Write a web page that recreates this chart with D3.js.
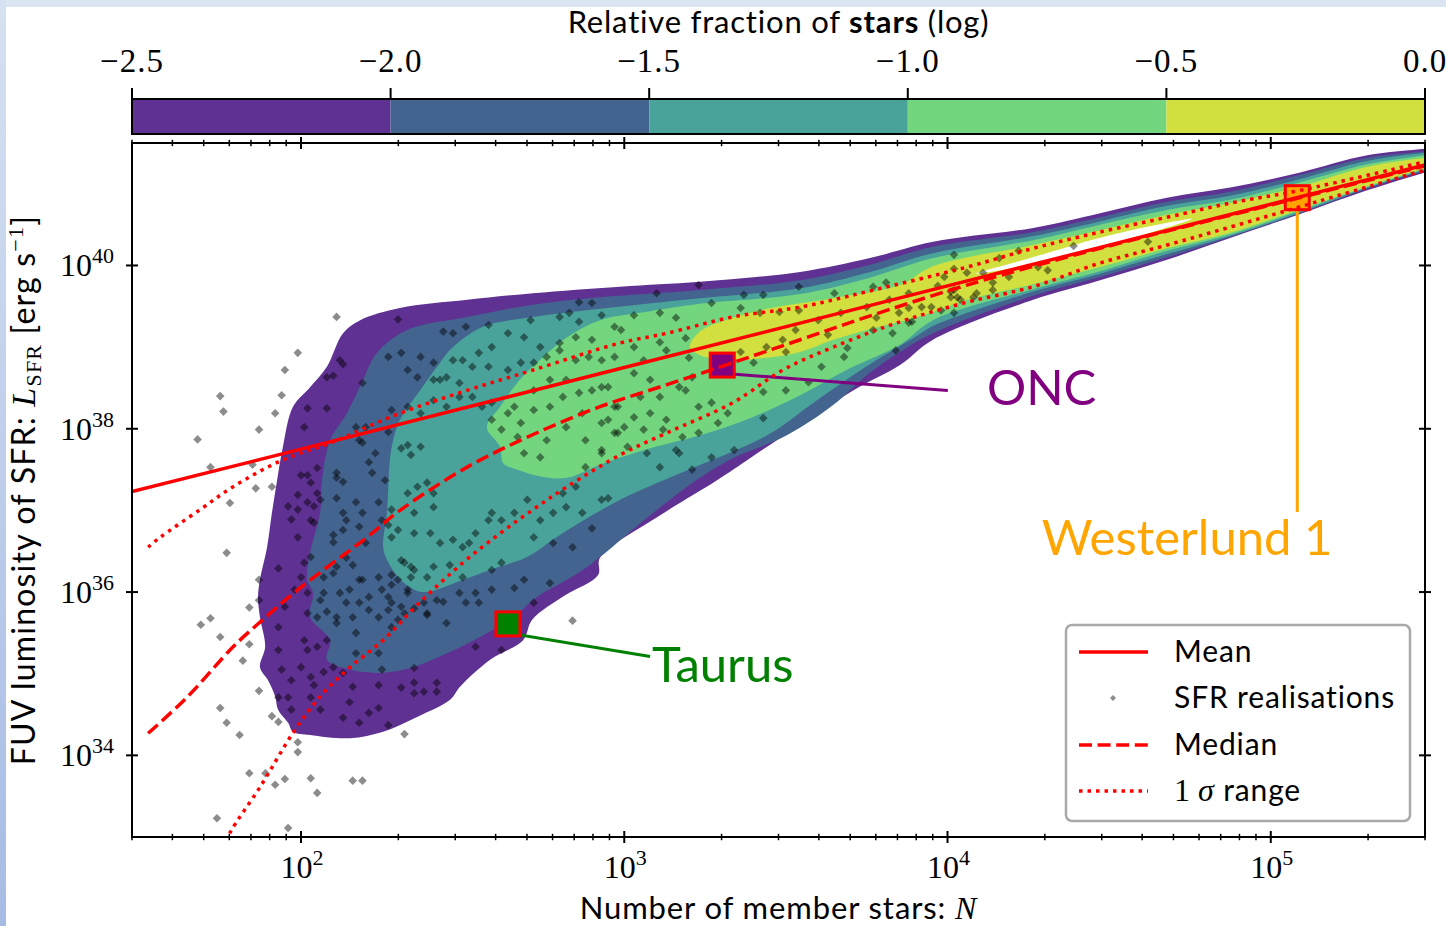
<!DOCTYPE html>
<html>
<head>
<meta charset="utf-8">
<script src="https://cdn.jsdelivr.net/npm/d3@7"></script>
<style>
html, body { margin: 0; padding: 0; background: #fff; }
svg { display: block; }
</style>
</head>
<body>
<svg id="chart" width="1446" height="926"></svg>
<script>
// ---- data (log10 N, log10 L) ----
var levels = [-2.5, -2.0, -1.5, -1.0, -0.5, 0.0];
var levelColors = ["#5f3192", "#43648f", "#4aa39b", "#73d57e", "#d1e03e"];

var contourM25 = [[1.873,36.15],[1.895,36.55],[1.910,36.97],[1.926,37.37],[1.944,37.78],[1.975,38.27],[2.028,38.51],[2.080,38.76],[2.130,39.17],[2.183,39.33],[2.306,39.48],[2.514,39.58],[2.718,39.66],[2.987,39.74],[3.234,39.80],[3.544,39.92],[3.760,40.09],[3.955,40.29],[4.265,40.46],[4.472,40.64],[4.679,40.83],[4.883,40.96],[5.091,41.14],[5.298,41.35],[5.477,41.43],[5.539,41.46],
  [5.539,41.21],[5.477,41.14],[5.298,40.92],[5.091,40.63],[4.883,40.35],[4.679,40.07],[4.472,39.82],[4.265,39.58],[3.955,39.09],[3.853,38.78],[3.708,38.47],[3.544,38.05],[3.389,37.64],[3.287,37.37],[3.111,36.94],[2.925,36.42],[2.919,36.21],[2.817,35.96],[2.715,35.66],[2.687,35.41],[2.585,35.17],[2.492,34.84],[2.461,34.68],[2.359,34.47],[2.254,34.29],[2.152,34.21],[2.028,34.25],[1.975,34.29],[1.960,34.40],[1.929,34.56],[1.920,34.72],[1.898,34.92],[1.873,35.08],[1.889,35.33],[1.873,35.69],[1.867,35.94]];
var contourM20 = [[2.019,36.15],[2.028,36.48],[2.059,36.97],[2.065,37.37],[2.090,37.86],[2.142,38.19],[2.192,38.60],[2.235,38.93],[2.328,39.21],[2.514,39.37],[2.718,39.52],[2.925,39.61],[3.234,39.70],[3.544,39.82],[3.760,40.01],[3.955,40.23],[4.265,40.41],[4.472,40.59],[4.679,40.78],[4.883,40.91],[5.091,41.11],[5.298,41.32],[5.477,41.40],[5.539,41.44],
  [5.539,41.22],[5.477,41.16],[5.298,40.94],[5.091,40.64],[4.883,40.36],[4.679,40.10],[4.472,39.86],[4.265,39.63],[3.955,39.17],[3.853,38.94],[3.751,38.66],[3.646,38.29],[3.503,37.92],[3.336,37.64],[3.234,37.40],[3.080,36.94],[2.903,36.36],[2.823,36.15],[2.730,35.94],[2.656,35.69],[2.554,35.45],[2.452,35.25],[2.346,35.08],[2.244,35.01],[2.152,35.05],[2.080,35.17],[2.090,35.41],[2.028,35.69],[2.037,35.99]];
var contourM15 = [[2.269,36.37],[2.254,36.55],[2.266,36.97],[2.275,37.62],[2.285,37.86],[2.306,38.11],[2.368,38.47],[2.430,38.81],[2.470,39.00],[2.563,39.25],[2.718,39.37],[2.925,39.47],[3.234,39.60],[3.544,39.72],[3.760,39.92],[3.955,40.15],[4.265,40.36],[4.472,40.54],[4.679,40.73],[4.883,40.86],[5.091,41.06],[5.298,41.28],[5.477,41.38],[5.539,41.41],
  [5.539,41.23],[5.477,41.17],[5.298,40.95],[5.091,40.65],[4.883,40.37],[4.679,40.14],[4.472,39.90],[4.265,39.68],[3.955,39.26],[3.906,39.14],[3.751,38.77],[3.596,38.35],[3.442,37.92],[3.182,37.47],[2.987,37.13],[2.801,36.70],[2.699,36.43],[2.606,36.30],[2.501,36.15],[2.377,36.00],[2.316,36.12]];
var contourM10 = [[2.575,38.02],[2.616,38.27],[2.677,38.60],[2.749,38.88],[2.823,39.12],[2.925,39.33],[3.080,39.44],[3.234,39.53],[3.544,39.65],[3.760,39.85],[3.955,40.09],[4.265,40.31],[4.472,40.50],[4.679,40.68],[4.883,40.81],[5.091,41.02],[5.298,41.24],[5.477,41.35],[5.539,41.39],
  [5.539,41.24],[5.477,41.18],[5.298,40.96],[5.091,40.67],[4.883,40.39],[4.679,40.18],[4.472,39.93],[4.265,39.71],[3.955,39.33],[3.853,39.03],[3.698,38.74],[3.544,38.41],[3.389,38.13],[3.234,37.92],[3.080,37.76],[2.925,37.56],[2.823,37.40],[2.749,37.41],[2.668,37.50],[2.625,37.58],[2.616,37.78]];
var contourM05 = [[3.203,39.00],[3.234,39.19],[3.336,39.36],[3.442,39.47],[3.646,39.60],[3.853,39.76],[3.955,39.99],[4.265,40.25],[4.472,40.43],[4.679,40.62],[4.883,40.77],[5.091,40.97],[5.298,41.21],[5.477,41.32],[5.539,41.35],
  [5.539,41.26],[5.477,41.19],[5.298,40.97],[5.091,40.69],[4.883,40.41],[4.679,40.21],[4.472,39.98],[4.265,39.77],[4.060,39.58],[3.955,39.43],[3.853,39.31],[3.751,39.21],[3.646,39.09],[3.544,38.94],[3.442,38.87],[3.336,38.84],[3.234,38.90]];
var contourTop = [[4.088,39.90],[4.255,40.09],[4.472,40.34],[4.626,40.48],[4.756,40.57],[4.626,40.40],[4.472,40.21],[4.255,40.01],[4.131,39.92]];

var sfrRealisations = [
 [2.11,39.37],[1.99,38.93],[1.95,38.72],[1.94,38.41],[1.92,38.19],[1.87,37.99],[1.75,38.40],[1.76,38.21],[1.68,37.87],[1.72,37.53],[1.85,37.56],[1.86,37.27],[1.78,37.09],[1.91,37.29],[1.77,36.48],[1.69,35.60],[1.72,35.68],[1.75,35.45],[1.84,35.36],[1.84,35.81],[1.82,35.16],[1.87,34.79],[1.75,34.58],[1.77,34.40],[1.81,34.25],[1.84,33.78],[1.89,33.78],[1.92,33.64],[1.95,33.71],[2.03,33.72],[2.05,33.54],[1.74,33.23],[1.96,33.11],[1.99,34.16],[1.99,34.04],[2.16,33.69],[2.19,33.69],[2.32,34.26],[1.91,34.48],[1.93,34.41],[2.84,35.65],
 [4.02,40.13],[4.22,40.18],[4.16,40.09],[4.39,40.24],[4.62,40.29],[3.99,39.86],[4.02,39.96],[4.06,39.91],[4.11,39.91],[4.19,39.86],[4.28,39.98],[4.31,39.94],[4.01,39.68],[4.01,39.61],[4.03,39.61],[4.08,39.61],[4.09,39.66],[4.14,39.70],[3.88,39.48],[3.89,39.31],[3.95,39.49],[3.97,39.75],
 [3.10,39.66],[3.23,39.76],[3.37,39.64],[3.43,39.64],[3.54,39.74],[3.65,39.66],[3.77,39.74],[3.81,39.79],[4.02,39.70],[4.04,39.58],[3.27,39.54],[3.36,39.48],[3.42,39.42],[3.48,39.43],[3.54,39.45],[3.60,39.33],[3.67,39.42],[3.75,39.49],[3.78,39.36],[3.85,39.42],[3.92,39.49],[3.98,39.45],[4.02,39.42],[3.88,39.30],[2.99,39.21],[3.03,39.39],[3.11,39.42],[3.16,39.36],[3.19,39.11],[3.03,39.00],[3.11,39.06],[2.97,38.88],[3.06,38.84],[3.13,38.96],[3.20,38.87],[2.93,38.51],[3.03,38.68],[3.08,38.60],[3.17,38.51],[3.21,38.63],[3.05,38.39],[3.11,38.39],[3.19,38.47],[2.98,38.27],[3.03,38.14],[3.08,38.19],[3.13,38.11],[3.23,38.27],[2.95,38.11],[2.97,37.95],[3.00,38.02],[3.06,37.99],[3.12,37.99],[3.18,37.90],[3.23,37.95],[3.29,38.07],[3.27,38.32],[3.32,38.19],[2.93,37.70],[3.01,37.78],[3.07,37.70],[3.17,37.70],[3.27,37.65],[3.34,37.74],[3.43,38.45],[3.50,38.47],[3.57,38.57],[3.61,38.76],[3.68,38.88],[3.69,38.99],[3.63,39.15],[3.53,39.21],[3.49,39.09],[3.50,38.94],[3.44,39.00],[3.40,38.81],[3.36,38.94],[3.77,39.21],[3.83,39.17],[3.82,39.58],[3.88,39.66],[4.14,39.79],[3.84,38.96],[3.43,38.13],[3.11,37.53],[3.21,37.50],[3.16,37.74],
 [2.30,39.34],[2.08,38.63],[2.10,38.65],[2.13,38.79],[2.08,38.25],[2.01,38.02],[2.02,38.25],[2.19,38.56],[2.27,37.96],[2.17,38.02],[2.19,37.83],[2.05,37.52],[2.00,37.43],[2.02,37.43],[2.11,37.40],[2.13,37.35],[2.05,37.21],[1.99,37.19],[1.96,37.05],[2.02,37.10],[2.04,37.05],[1.99,37.01],[2.03,36.88],[1.97,36.89],[1.99,36.67],[2.11,37.15],[2.17,37.10],[2.14,36.88],[2.10,36.70],[2.13,36.76],[2.19,36.97],[2.24,37.10],[2.26,37.37],[2.22,37.46],[2.21,37.59],[2.31,37.76],[2.34,37.68],[2.33,37.80],[2.37,37.78],[2.36,37.29],[2.39,37.34],[2.41,37.21],[2.41,37.04],[2.33,37.21],[2.35,36.97],[2.28,37.01],[2.27,36.82],[2.30,36.76],[2.35,36.72],[2.40,36.72],[2.43,36.60],[2.47,36.64],[2.50,36.55],[2.52,36.60],[2.54,36.72],[2.58,36.88],[2.59,36.97],[2.62,36.88],[2.66,36.97],[2.70,37.13],[2.74,36.88],[2.78,36.97],[2.82,37.04],[2.87,36.97],[2.93,37.13],[2.85,37.29],[2.81,37.21],[2.72,36.67],[2.78,36.60],[2.84,36.55],[2.90,36.78],[2.95,37.15],[2.88,37.53],[2.93,37.74],[2.98,37.95],[2.88,37.86],[2.82,38.02],[2.76,37.86],[2.74,37.65],[2.69,37.70],[2.67,37.90],[2.62,37.99],[2.59,38.11],[2.64,38.19],[2.68,38.07],[2.72,38.23],[2.77,38.27],[2.81,38.39],[2.86,38.44],[2.90,38.47],[2.95,38.51],[2.97,38.27],[2.93,38.07],[2.87,38.19],[2.82,38.60],[2.77,38.60],[2.72,38.47],[2.66,38.27],[2.59,38.32],[2.56,38.27],[2.53,38.39],[2.49,38.39],[2.45,38.27],[2.41,38.35],[2.37,38.19],[2.33,38.27],[2.28,38.23],[2.41,38.60],[2.45,38.63],[2.49,38.56],[2.53,38.76],[2.58,38.76],[2.64,38.72],[2.68,38.81],[2.72,38.81],[2.76,38.88],[2.80,38.96],[2.85,38.84],[2.89,38.88],[2.93,38.84],[2.90,39.09],[2.85,39.12],[2.80,39.05],[2.74,39.00],[2.69,39.12],[2.64,39.17],[2.59,39.00],[2.55,38.93],[2.50,38.84],[2.47,38.84],[2.43,38.60],[2.37,38.88],[2.33,38.72],[2.31,38.93],[2.36,38.63],[2.41,38.81],[2.51,39.25],[2.58,39.27],[2.44,39.19],[2.47,39.17],[2.71,39.33],[2.80,39.37],[2.83,39.42],[2.86,39.31],[2.90,39.54],[2.86,39.55],[2.93,39.39],[2.97,39.25],
 [2.12,38.84],[2.27,38.88],[2.20,38.02],[2.18,37.86],[2.23,37.70],[2.11,37.46],[2.06,37.13],[2.03,37.34],
 [2.32,36.36],[2.35,36.27],[2.41,36.31],[2.46,36.33],[2.50,36.18],[2.59,36.27],[2.62,36.36],[2.69,36.15],[2.77,36.11],[2.28,36.21],[2.28,36.09],[2.33,36.03],[2.38,35.87],[2.42,35.90],[2.49,35.99],[2.54,35.99],[2.59,36.03],[2.66,36.05],[2.31,35.82],[2.35,35.80],[2.44,35.88],[2.51,35.87],[2.55,35.87],[2.27,35.78],[2.30,35.66],[2.39,35.74],[2.45,35.62],[2.72,35.87],[2.54,35.33],[2.62,35.29],[2.25,35.05],[2.35,35.07],[2.31,34.83],[2.35,34.89],[2.38,34.78],[2.42,34.89],[2.42,34.78],
 [1.93,36.29],[2.00,36.18],[2.02,35.99],[1.95,35.82],[1.93,35.57],[2.02,35.74],[2.01,35.41],[2.02,35.29],[1.93,35.29],[1.94,35.05],[2.00,35.08],[1.97,34.92],[2.03,34.96],[2.04,34.86],[2.03,34.71],[1.96,34.71],[1.93,34.71],[1.97,34.56],[2.06,34.56],[2.07,35.02],[2.10,35.08],[2.13,35.01],[2.16,34.84],[2.15,34.65],[2.13,34.46],[2.18,34.40],[2.21,34.52],[2.24,34.58],[2.27,34.37],[2.24,34.86],[2.35,34.76],[2.07,35.99],[2.08,35.76],[2.11,35.62],[2.17,35.50],[2.14,35.87],[2.15,36.03],[2.18,35.87],[2.19,36.15],[2.21,35.78],[2.24,35.69],[2.28,35.57],[2.28,35.87],[2.33,35.99],[2.25,36.03],[2.30,36.15],[2.34,36.31],[2.39,36.18],[2.39,35.72],[2.17,35.25],[2.24,35.25],[2.07,36.18],[2.11,36.31],[2.16,36.33],[2.05,35.33],[2.08,35.41],
 [2.04,36.85],[2.03,36.43],[2.10,36.61],[2.14,36.42],[2.01,36.36],[1.87,36.15],[1.87,35.90],[1.98,36.03],[2.13,36.97],[2.18,36.80],[2.20,36.60],[2.25,36.88],[2.28,36.67],[2.31,36.39],[2.34,36.18],[2.27,35.94],[2.32,35.74],[2.18,36.15],[2.12,35.99],[2.06,35.90],[2.05,35.69],[2.11,35.69],[2.16,35.69],[2.21,35.94],[2.24,36.18],[2.10,36.23]
];

var meanLine = [[1.477,37.23],[2,37.75],[3,38.75],[4,39.75],[5,40.75],[5.477,41.23]];
var medianLine = [[1.527,34.27],[1.647,34.71],[1.790,35.33],[1.864,35.60],[1.997,36.05],[2.204,36.67],[2.306,37.00],[2.514,37.53],[2.718,37.93],[2.925,38.27],[3.132,38.54],[3.336,38.81],[3.544,39.09],[3.751,39.37],[4.060,39.76],[4.472,40.21],[5.0,40.74],[5.477,41.22]];
var sigmaUpper = [[1.527,36.55],[1.564,36.67],[1.688,37.01],[1.790,37.29],[1.944,37.62],[2.099,37.84],[2.306,38.19],[2.514,38.47],[2.718,38.72],[2.987,39.05],[3.132,39.17],[3.336,39.37],[3.544,39.49],[3.751,39.68],[4.060,39.98],[4.265,40.21],[4.472,40.41],[4.679,40.59],[4.883,40.77],[5.091,40.92],[5.477,41.27]];
var sigmaLower = [[1.760,32.85],[1.780,33.05],[1.873,33.61],[1.981,34.31],[2.068,34.76],[2.152,35.08],[2.254,35.41],[2.359,35.84],[2.501,36.36],[2.616,36.72],[2.718,37.01],[2.823,37.29],[2.987,37.68],[3.132,37.95],[3.336,38.32],[3.491,38.72],[3.646,39.00],[3.853,39.31],[4.060,39.55],[4.265,39.74],[4.472,40.03],[4.679,40.25],[4.883,40.48],[5.091,40.72],[5.477,41.17]];

var clusterNames = ["Taurus", "ONC", "Westerlund 1"];
var clusterPoints = [[2.640,35.61],[3.303,38.78],[5.082,40.83]];
var clusterLineFrom = [[2.640,35.50],[3.303,38.68],[5.082,40.83]];
var clusterLineTo = [[3.080,35.21],[4.001,38.47],[5.082,36.98]];
var clusterTextAt = [[3.086,34.90],[4.122,38.29],[4.741,36.454]];
var clusterColors = ["#008000", "#800080", "#ffa500"];

var xMajorTicks = [1e2, 1e3, 1e4, 1e5];
var yMajorTicks = [1e34, 1e36, 1e38, 1e40];
var cbTicks = [-2.5, -2.0, -1.5, -1.0, -0.5, 0.0];

// ---- layout ----
var W = 1446, H = 926;
var plot = {left: 132, right: 1425, top: 143, bottom: 837};
var cbBox = {top: 99, bottom: 134};
var SANS = "Lato, 'DejaVu Sans', sans-serif";
var SERIF = "'Liberation Serif', 'DejaVu Serif', serif";

var svg = d3.select("#chart");
var defs = svg.append("defs");

var grad = defs.append("linearGradient").attr("id", "edgeGrad")
  .attr("x1", 0).attr("y1", 0).attr("x2", 0).attr("y2", 1);
grad.append("stop").attr("offset", "0%").attr("stop-color", "#d6e1f1");
grad.append("stop").attr("offset", "100%").attr("stop-color", "#a7bce5");

svg.append("rect").attr("width", W).attr("height", H).attr("fill", "#dce6f3");
svg.append("rect").attr("x", 0).attr("y", 0).attr("width", 6).attr("height", H).attr("fill", "url(#edgeGrad)");
svg.append("rect").attr("x", 6).attr("y", 7).attr("width", W - 6).attr("height", H - 7).attr("fill", "#ffffff");

defs.append("clipPath").attr("id", "plotClip").append("rect")
  .attr("x", plot.left).attr("y", plot.top)
  .attr("width", plot.right - plot.left).attr("height", plot.bottom - plot.top);

var x = d3.scaleLog().domain([30, 3e5]).range([plot.left, plot.right]);
var y = d3.scaleLog().domain([1e33, Math.pow(10, 41.5)]).range([plot.bottom, plot.top]);
var px = function(d) { return x(Math.pow(10, d[0])); };
var py = function(d) { return y(Math.pow(10, d[1])); };

var area = svg.append("g").attr("clip-path", "url(#plotClip)");

// filled contours
var shapePath = d3.line().x(px).y(py).curve(d3.curveCatmullRomClosed.alpha(0.5));
var contours = [contourM25, contourM20, contourM15, contourM10, contourM05];
contours.forEach(function(c, i) {
  area.append("path").attr("d", shapePath(c)).attr("fill", levelColors[i]);
});
area.append("path").attr("d", shapePath(contourTop)).attr("fill", "#ffffff");

// scatter of realisations (diamonds)
area.append("g").selectAll("path").data(sfrRealisations).enter().append("path")
  .attr("d", "M0,-4.3L4.3,0L0,4.3L-4.3,0Z")
  .attr("transform", function(d) { return "translate(" + px(d) + "," + py(d) + ")"; })
  .attr("fill", "#000").attr("fill-opacity", 0.45);

// annotation connectors
clusterNames.forEach(function(n, i) {
  area.append("line")
    .attr("x1", px(clusterLineFrom[i])).attr("y1", py(clusterLineFrom[i]))
    .attr("x2", px(clusterLineTo[i])).attr("y2", py(clusterLineTo[i]))
    .attr("stroke", clusterColors[i]).attr("stroke-width", 3);
});
// cluster markers
area.append("g").selectAll("rect").data(clusterPoints).enter().append("rect")
  .attr("x", function(d) { return px(d) - 12; })
  .attr("y", function(d) { return py(d) - 12; })
  .attr("width", 24).attr("height", 24)
  .attr("fill", function(d, i) { return clusterColors[i]; })
  .attr("stroke", "#ff0000").attr("stroke-width", 3);

// statistic lines
var curvePath = d3.line().x(px).y(py).curve(d3.curveCatmullRom.alpha(0.5));
area.append("path").attr("d", curvePath(meanLine)).attr("fill", "none")
  .attr("stroke", "#ff0000").attr("stroke-width", 3.5);
area.append("path").attr("d", curvePath(medianLine)).attr("fill", "none")
  .attr("stroke", "#ff0000").attr("stroke-width", 3.5).attr("stroke-dasharray", "13,5.6");
[sigmaUpper, sigmaLower].forEach(function(s) {
  area.append("path").attr("d", curvePath(s)).attr("fill", "none")
    .attr("stroke", "#ff0000").attr("stroke-width", 3.5).attr("stroke-dasharray", "3.5,5");
});

// cluster labels
clusterNames.forEach(function(n, i) {
  svg.append("text").attr("x", px(clusterTextAt[i])).attr("y", py(clusterTextAt[i]))
    .attr("text-anchor", i === 2 ? "middle" : "start")
    .attr("font-family", SANS).attr("font-size", 49)
    .attr("fill", clusterColors[i]).text(n);
});

// frame and ticks
var axes = svg.append("g").attr("stroke", "#000");
axes.append("rect").attr("x", plot.left).attr("y", plot.top)
  .attr("width", plot.right - plot.left).attr("height", plot.bottom - plot.top)
  .attr("fill", "none").attr("stroke-width", 2);

var isMajorX = function(t) { return xMajorTicks.indexOf(t) >= 0; };
x.ticks().forEach(function(t) {
  var len = isMajorX(t) ? 6 : 3.2;
  var xx = x(t);
  [plot.bottom, plot.top].forEach(function(yy) {
    axes.append("line").attr("x1", xx).attr("x2", xx).attr("y1", yy - len).attr("y2", yy + len)
      .attr("stroke-width", isMajorX(t) ? 2 : 1.5);
  });
});
yMajorTicks.forEach(function(t) {
  var yy = y(t);
  [plot.left, plot.right].forEach(function(xx) {
    axes.append("line").attr("x1", xx - 6).attr("x2", xx + 6).attr("y1", yy).attr("y2", yy)
      .attr("stroke-width", 2);
  });
});

// tick labels
xMajorTicks.forEach(function(t) {
  var tx = svg.append("text").attr("x", x(t) + 1).attr("y", 878)
    .attr("text-anchor", "middle").attr("font-family", SERIF).attr("font-size", 32);
  tx.append("tspan").text("10");
  tx.append("tspan").attr("dy", -13).attr("font-size", 22).text(Math.round(Math.log10(t)));
});
yMajorTicks.forEach(function(t) {
  var ty = svg.append("text").attr("x", 114).attr("y", y(t) + 11)
    .attr("text-anchor", "end").attr("font-family", SERIF).attr("font-size", 32);
  ty.append("tspan").text("10");
  ty.append("tspan").attr("dy", -13).attr("font-size", 22).text(Math.round(Math.log10(t)));
});

// axis labels
var xl = svg.append("text").attr("x", (plot.left + plot.right) / 2).attr("y", 919)
  .attr("text-anchor", "middle").attr("font-family", SANS).attr("font-size", 31)
  .attr("letter-spacing", 0.9);
xl.append("tspan").text("Number of member stars: ");
xl.append("tspan").attr("font-family", SERIF).attr("font-style", "italic").attr("font-size", 32).text("N");

var yl = svg.append("text")
  .attr("transform", "translate(35," + ((plot.top + plot.bottom) / 2) + ") rotate(-90)")
  .attr("text-anchor", "middle").attr("font-family", SANS).attr("font-size", 32)
  .attr("letter-spacing", 1.2);
yl.append("tspan").text("FUV luminosity of SFR: ");
yl.append("tspan").attr("font-family", SERIF).attr("font-style", "italic").attr("font-size", 34).text("L");
yl.append("tspan").attr("font-family", SERIF).attr("font-size", 22).attr("dy", 6).text("SFR");
yl.append("tspan").attr("dy", -6).text(" [erg s");
yl.append("tspan").attr("font-family", SERIF).attr("font-size", 22).attr("dy", -12).text("\u22121");
yl.append("tspan").attr("dy", 12).text("]");

// colour bar
var cb = d3.scaleLinear().domain([-2.5, 0]).range([plot.left, plot.right]);
var bar = svg.append("g");
levelColors.forEach(function(c, i) {
  bar.append("rect").attr("x", cb(levels[i])).attr("y", cbBox.top)
    .attr("width", cb(levels[i + 1]) - cb(levels[i])).attr("height", cbBox.bottom - cbBox.top)
    .attr("fill", c);
});
bar.append("rect").attr("x", plot.left).attr("y", cbBox.top)
  .attr("width", plot.right - plot.left).attr("height", cbBox.bottom - cbBox.top)
  .attr("fill", "none").attr("stroke", "#000").attr("stroke-width", 2);
cbTicks.forEach(function(t) {
  bar.append("line").attr("x1", cb(t)).attr("x2", cb(t)).attr("y1", cbBox.top - 11).attr("y2", cbBox.top)
    .attr("stroke", "#000").attr("stroke-width", 2);
  bar.append("text").attr("x", cb(t)).attr("y", 72).attr("text-anchor", "middle")
    .attr("font-family", SERIF).attr("font-size", 33).attr("letter-spacing", 1)
    .text(t < 0 ? "\u2212" + Math.abs(t).toFixed(1) : t.toFixed(1));
});
var ct = svg.append("text").attr("x", (plot.left + plot.right) / 2).attr("y", 33)
  .attr("text-anchor", "middle").attr("font-family", SANS).attr("font-size", 31)
  .attr("letter-spacing", 0.8);
ct.append("tspan").text("Relative fraction of ");
ct.append("tspan").attr("font-weight", "bold").text("stars");
ct.append("tspan").text(" (log)");

// legend
var lg = svg.append("g");
lg.append("rect").attr("x", 1066).attr("y", 625).attr("width", 344).attr("height", 196)
  .attr("rx", 6).attr("fill", "#fff").attr("fill-opacity", 0.85)
  .attr("stroke", "#a9a9a9").attr("stroke-width", 2.5);
var legendRows = [652, 698, 745, 791];
var legendLabels = ["Mean", "SFR realisations", "Median", null];
var dashes = [null, null, "13,5.6", "3.5,5"];
legendRows.forEach(function(ry, i) {
  if (i === 1) {
    lg.append("path").attr("d", "M0,-3L3,0L0,3L-3,0Z")
      .attr("transform", "translate(1113," + ry + ")").attr("fill", "#000").attr("fill-opacity", 0.45);
  } else {
    var l = lg.append("line").attr("x1", 1079).attr("x2", 1148).attr("y1", ry).attr("y2", ry)
      .attr("stroke", "#ff0000").attr("stroke-width", 3.5);
    if (dashes[i]) l.attr("stroke-dasharray", dashes[i]);
  }
  var t = lg.append("text").attr("x", 1174).attr("y", ry + 10)
    .attr("font-family", SANS).attr("font-size", 30).attr("letter-spacing", 0.85);
  if (legendLabels[i]) {
    t.text(legendLabels[i]);
  } else {
    t.append("tspan").attr("font-family", SERIF).attr("font-size", 32).text("1");
    t.append("tspan").attr("font-family", SERIF).attr("font-style", "italic").attr("font-size", 32).text("\u2009\u03c3");
    t.append("tspan").text(" range");
  }
});
</script>
</body>
</html>
